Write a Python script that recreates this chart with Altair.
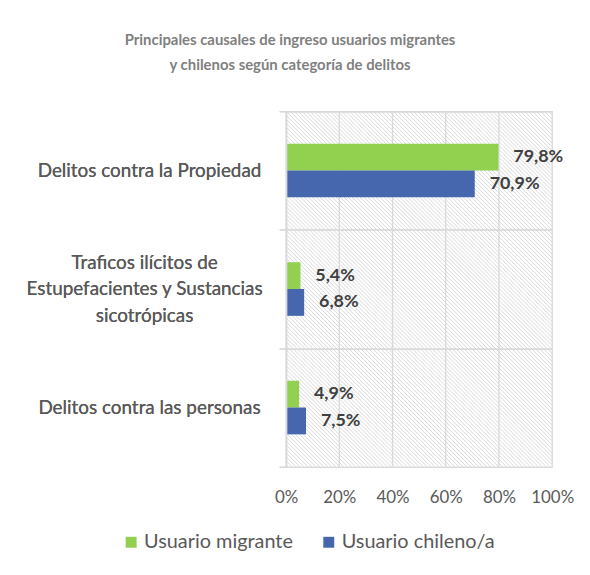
import altair as alt
import pandas as pd

# ---- data ----
categorias = [
    "Delitos contra la Propiedad",
    "Traficos ilícitos de Estupefacientes y Sustancias sicotrópicas",
    "Delitos contra las personas",
]
categorias_lineas = [
    ["Delitos contra la Propiedad"],
    ["Traficos ilícitos de", "Estupefacientes y Sustancias", "sicotrópicas"],
    ["Delitos contra las personas"],
]
series = ["Usuario migrante", "Usuario chileno/a"]
migrante = [79.8, 5.4, 4.9]
chileno = [70.9, 6.8, 7.5]
x_ticks = [0, 20, 40, 60, 80, 100]
colores = ["#92D050", "#4666AE"]
titulo = ["Principales causales de ingreso usuarios migrantes",
          "y chilenos según categoría de delitos"]

FONT = "Lato"
W, H = 268, 358
BAR = 27
HATCH_STEP = 4  # px between diagonal hatch lines (background style)

rows = []
for cat, m, c in zip(categorias, migrante, chileno):
    rows.append({"categoria": cat, "serie": series[0], "valor": m})
    rows.append({"categoria": cat, "serie": series[1], "valor": c})
df = pd.DataFrame(rows)
df["etiqueta"] = df["valor"].map(lambda v: f"{v:.1f}%".replace(".", ","))

# multi-line label expression + per-label offsets
parts = []
multi_test = []
for cat, lines in zip(categorias, categorias_lineas):
    if len(lines) > 1:
        arr = "[" + ", ".join("'" + l + "'" for l in lines) + "]"
        parts.append(f"datum.label == '{cat}' ? {arr}")
        multi_test.append(f"datum.value == '{cat}'")
label_expr = " : ".join(parts) + " : datum.label"
multi_cond = " || ".join(multi_test)

xscale = alt.Scale(domain=[0, 100])

# background hatch pattern (decorative diagonal lines, clipped to the plot)
hx = []
k0 = -(H // HATCH_STEP) - 1
k1 = W // HATCH_STEP + 1
for k in range(k0, k1 + 1):
    px = k * HATCH_STEP
    hx.append({"x": px / W * 100, "x2": (px + H) / W * 100, "y": H, "y2": 0})
hatch_df = pd.DataFrame(hx)

hatch = alt.Chart(hatch_df).mark_rule(
    color="#c8c8c8", strokeWidth=0.7, clip=True
).encode(
    x=alt.X("x:Q", scale=xscale, title=None),
    x2="x2:Q",
    y=alt.Y("y:Q", scale=alt.Scale(domain=[0, H], nice=False), axis=None),
    y2="y2:Q",
)

grid = alt.Chart(pd.DataFrame({"t": x_ticks})).mark_rule(
    color="#d9d9d9", strokeWidth=1.3
).encode(x=alt.X("t:Q", scale=xscale, title=None))

band = H / len(categorias)
off0 = band / 2 - BAR

base = alt.Chart(df).encode(
    x=alt.X(
        "valor:Q",
        scale=xscale,
        axis=alt.Axis(
            title=None, values=x_ticks, labelExpr="datum.value + '%'",
            grid=False, ticks=False, domain=False, labelPadding=23,
            labelOverlap=False, labelFlush=False, labelFont=FONT,
            labelFontSize=17, labelColor="#595959",
        ),
    ),
    y=alt.Y(
        "categoria:N",
        sort=categorias,
        scale=alt.Scale(paddingInner=0, paddingOuter=0),
        axis=alt.Axis(
            orient="left",
            title=None, tickBand="extent", grid=True, gridColor="#d9d9d9",
            gridWidth=1.3, domainColor="#d9d9d9", domainWidth=1.3,
            tickColor="#d9d9d9", tickWidth=1.3, tickSize=7,
            labelAlign="center", labelBaseline="middle",
            labelPadding={"condition": {"test": multi_cond, "value": 136}, "value": 131},
            labelOffset={"condition": {"test": multi_cond, "value": -27}, "value": 0},
            labelExpr=label_expr, labelFont=FONT, labelFontSize=19,
            labelColor="#595959", labelLineHeight=27, labelLimit=0,
            labelOverlap=False, zindex=1,
        ),
    ),
    yOffset=alt.YOffset(
        "serie:N", sort=series,
        scale=alt.Scale(domain=series, range=[off0, off0 + 2 * BAR],
                        paddingInner=0, paddingOuter=0),
    ),
)

bars = base.mark_bar().encode(
    color=alt.Color(
        "serie:N",
        sort=series,
        scale=alt.Scale(domain=series, range=colores),
        legend=alt.Legend(
            title=None, orient="none", legendX=-166, legendY=424,
            direction="horizontal", symbolType="square", symbolSize=121,
            symbolStrokeWidth=0, labelFont=FONT, labelFontSize=20,
            labelColor="#595959", columnPadding=26, labelOffset=3,
            labelLimit=0,
        ),
    )
)

texts = base.mark_text(
    align="left", baseline="middle", dx=15, font=FONT, fontSize=18,
    fontWeight="bold", color="#404040",
).encode(text="etiqueta:N")

chart = alt.layer(hatch, grid, bars, texts).resolve_scale(
    y="independent"
).properties(
    width=W,
    height=H,
    autosize="none",
    padding={"left": 280, "top": 102, "right": 30, "bottom": 107},
    title=alt.TitleParams(
        titulo, font=FONT, fontSize=15, fontWeight="bold", color="#808080",
        anchor="middle", dx=-130, offset=30, lineHeight=25,
    ),
).configure_view(stroke=None)

chart.save("out.html", embed_options={"renderer": "svg", "actions": False})
